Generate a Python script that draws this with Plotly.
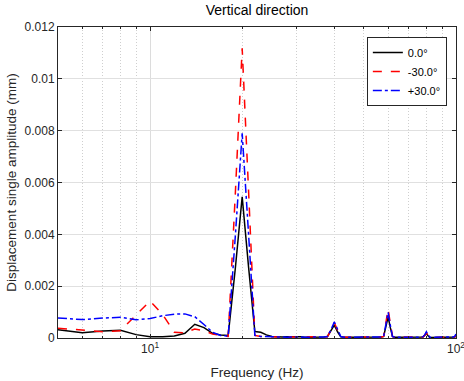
import plotly.graph_objects as go

freq_hz = [
    5, 6, 7, 8, 9, 10, 11, 12, 13, 14,
    15, 16, 17, 18, 19, 20, 21, 22, 23, 24,
    25, 26, 27, 28, 29, 30, 31, 32, 33, 34,
    35, 36, 37, 38, 39, 40, 41, 42, 43, 44,
    45, 46, 47, 48, 49, 50, 51, 52, 53, 54,
    55, 56, 57, 58, 59, 60, 61, 62, 63, 64,
    65, 66, 67, 68, 69, 70, 71, 72, 73, 74,
    75, 76, 77, 78, 79, 80, 81, 82, 83, 84,
    85, 86, 87, 88, 89, 90, 91, 92, 93, 94,
    95, 96, 97, 98, 99, 100,
]

amp_0deg = [
    0.00032, 0.00020, 0.00027, 0.00030, 0.00013, 0.00005, 0.00005, 0.00008, 0.00018, 0.00053,
    0.00040, 0.00018, 0.00012, 0.00010, 0.00270, 0.00545, 0.00270, 0.00025, 0.00022, 0.00012,
    0.00006, 0.00004, 0.00004, 0.00005, 0.00006, 0.00007, 0.00005, 0.00003, 0.00003, 0.00003,
    0.00003, 0.00003, 0.00004, 0.00006, 0.00026, 0.00050, 0.00024, 0.00005, 0.00003, 0.00003,
    0.00003, 0.00002, 0.00002, 0.00003, 0.00003, 0.00003, 0.00002, 0.00002, 0.00003, 0.00003,
    0.00003, 0.00003, 0.00004, 0.00006, 0.00042, 0.00082, 0.00040, 0.00006, 0.00003, 0.00003,
    0.00003, 0.00002, 0.00002, 0.00002, 0.00003, 0.00003, 0.00002, 0.00002, 0.00002, 0.00003,
    0.00003, 0.00003, 0.00003, 0.00004, 0.00010, 0.00018, 0.00009, 0.00003, 0.00002, 0.00002,
    0.00002, 0.00002, 0.00002, 0.00002, 0.00002, 0.00003, 0.00003, 0.00002, 0.00002, 0.00002,
    0.00002, 0.00002, 0.00003, 0.00003, 0.00004, 0.00008,
]

amp_m30deg = [
    0.00038, 0.00030, 0.00024, 0.00028, 0.00090, 0.00143, 0.00090, 0.00022, 0.00020, 0.00035,
    0.00028, 0.00015, 0.00010, 0.00006, 0.00560, 0.01118, 0.00560, 0.00010, 0.00006, 0.00005,
    0.00004, 0.00003, 0.00003, 0.00003, 0.00004, 0.00004, 0.00003, 0.00003, 0.00003, 0.00003,
    0.00003, 0.00003, 0.00003, 0.00005, 0.00030, 0.00060, 0.00030, 0.00005, 0.00003, 0.00003,
    0.00003, 0.00003, 0.00002, 0.00002, 0.00003, 0.00003, 0.00003, 0.00002, 0.00002, 0.00003,
    0.00003, 0.00003, 0.00004, 0.00006, 0.00056, 0.00112, 0.00055, 0.00006, 0.00003, 0.00003,
    0.00002, 0.00002, 0.00003, 0.00003, 0.00002, 0.00002, 0.00003, 0.00003, 0.00002, 0.00002,
    0.00002, 0.00003, 0.00003, 0.00004, 0.00010, 0.00020, 0.00010, 0.00003, 0.00002, 0.00002,
    0.00002, 0.00002, 0.00003, 0.00003, 0.00002, 0.00002, 0.00002, 0.00003, 0.00003, 0.00002,
    0.00002, 0.00003, 0.00003, 0.00003, 0.00004, 0.00010,
]

amp_p30deg = [
    0.00077, 0.00071, 0.00077, 0.00080, 0.00070, 0.00075, 0.00086, 0.00092, 0.00093, 0.00082,
    0.00052, 0.00022, 0.00010, 0.00007, 0.00395, 0.00790, 0.00395, 0.00010, 0.00006, 0.00005,
    0.00004, 0.00004, 0.00003, 0.00003, 0.00004, 0.00005, 0.00004, 0.00003, 0.00003, 0.00003,
    0.00003, 0.00003, 0.00004, 0.00006, 0.00031, 0.00062, 0.00031, 0.00006, 0.00003, 0.00003,
    0.00003, 0.00002, 0.00003, 0.00003, 0.00003, 0.00002, 0.00002, 0.00003, 0.00003, 0.00003,
    0.00003, 0.00003, 0.00004, 0.00006, 0.00050, 0.00099, 0.00049, 0.00006, 0.00003, 0.00003,
    0.00003, 0.00002, 0.00002, 0.00003, 0.00003, 0.00003, 0.00002, 0.00002, 0.00003, 0.00003,
    0.00003, 0.00003, 0.00003, 0.00005, 0.00012, 0.00024, 0.00011, 0.00004, 0.00003, 0.00002,
    0.00002, 0.00003, 0.00003, 0.00002, 0.00002, 0.00003, 0.00003, 0.00003, 0.00002, 0.00002,
    0.00003, 0.00003, 0.00003, 0.00004, 0.00006, 0.00015,
]

series_names = ["0.0°", "-30.0°", "+30.0°"]
y_tick_vals = [0, 0.002, 0.004, 0.006, 0.008, 0.01, 0.012]
y_tick_text = ["0", "0.002", "0.004", "0.006", "0.008", "0.01", "0.012"]
x_tick_vals = [10, 100]
x_tick_text = ["10<sup>1</sup>", "10<sup>2</sup>"]
x_minor_vals = [6, 7, 8, 9, 20, 30, 40, 50, 60, 70, 80, 90]

FONT = "Liberation Sans, Arial, Helvetica, sans-serif"
AX = "#262626"

fig = go.Figure()
fig.add_trace(go.Scatter(x=freq_hz, y=amp_0deg, mode="lines", name=series_names[0],
                         line=dict(color="#000000", width=1.5)))
fig.add_trace(go.Scatter(x=freq_hz, y=amp_m30deg, mode="lines", name=series_names[1],
                         line=dict(color="#ff0000", width=1.5, dash="dash")))
fig.add_trace(go.Scatter(x=freq_hz, y=amp_p30deg, mode="lines", name=series_names[2],
                         line=dict(color="#0000ff", width=1.5, dash="dashdot")))

fig.update_layout(
    width=464, height=381,
    margin=dict(l=58, r=8, t=27, b=43, autoexpand=False),
    paper_bgcolor="white", plot_bgcolor="white",
    font=dict(family=FONT, size=12, color=AX),
    title=dict(text="Vertical direction", x=0.5, xref="paper", xanchor="center",
               y=1, yref="container", yanchor="top", pad=dict(t=5),
               font=dict(family=FONT, size=14, color="#000000")),
    showlegend=True,
    legend=dict(x=0.977, y=0.968, xanchor="right", yanchor="top",
                bgcolor="white", bordercolor=AX, borderwidth=1,
                font=dict(family=FONT, size=11, color="#000000"),
                tracegroupgap=0, itemwidth=30),
)

fig.update_xaxes(
    type="log", range=[0.69897, 2],
    tickmode="array", tickvals=x_tick_vals, ticktext=x_tick_text,
    ticks="inside", ticklen=4, tickcolor=AX,
    showline=True, linecolor=AX, linewidth=1, mirror="ticks",
    showgrid=True, gridcolor="#dcdcdc", gridwidth=1,
    zeroline=False, ticklabeloverflow="allow", automargin=False,
    tickfont=dict(family=FONT, size=12, color=AX),
    minor=dict(tickmode="array", tickvals=x_minor_vals, ticks="inside", ticklen=2,
               tickcolor=AX, showgrid=True, gridcolor="#cfcfcf", griddash="1px,2px", gridwidth=1),
    title=dict(text="Frequency (Hz)", font=dict(family=FONT, size=13.5, color=AX), standoff=12),
)

fig.update_yaxes(
    range=[0, 0.012],
    tickmode="array", tickvals=y_tick_vals, ticktext=y_tick_text,
    ticks="inside", ticklen=4, tickcolor=AX,
    showline=True, linecolor=AX, linewidth=1, mirror="ticks",
    showgrid=True, gridcolor="#e0e0e0", gridwidth=1,
    zeroline=False, automargin=False,
    tickfont=dict(family=FONT, size=12, color=AX),
    title=dict(text="Displacement single amplitude (mm)", font=dict(family=FONT, size=13.5, color=AX), standoff=4),
)

fig.write_html("out.html")
